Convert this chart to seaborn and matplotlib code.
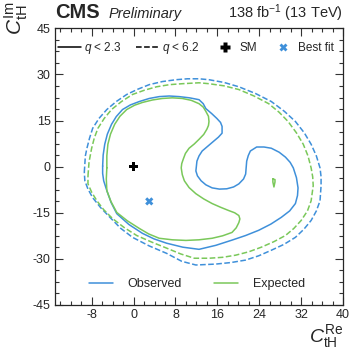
import matplotlib
matplotlib.use("Agg")
import matplotlib.pyplot as plt
from matplotlib.lines import Line2D
from matplotlib.ticker import MultipleLocator, AutoMinorLocator
import seaborn as sns

# contour values (C_tH^Re, C_tH^Im)
obs68_x = [-5.9, -5.8, -5.5, -5.0, -4.2, -3.3, -2.1, -0.6, 1.1, 3.0, 4.9, 6.8, 8.7, 10.7, 12.5,
           13.3, 13.8, 14.9, 15.9, 16.6, 16.9, 16.9, 16.2, 15.3, 14.2, 13.1, 12.5, 12.1, 11.9,
           12.2, 12.9, 13.8, 15.0, 16.4, 17.8, 19.1, 20.1, 21.0, 21.4, 21.6, 21.9, 22.3, 23.5,
           24.9, 26.3, 27.8, 29.0, 29.9, 30.5, 31.1, 31.4, 31.3, 30.9, 29.8, 28.2, 26.2, 23.9,
           21.4, 18.8, 15.7, 12.5, 9.4, 6.3, 3.9, 1.7, -0.9, -3.2, -4.3, -5.1, -5.7, -5.9, -5.9]
obs68_y = [0.2, 3.8, 7.3, 10.6, 13.8, 16.3, 18.6, 20.1, 21.2, 22.2, 22.8, 23.0, 22.8, 22.4, 21.8,
           20.5, 18.9, 17.3, 15.7, 14.4, 13.1, 10.9, 9.6, 8.3, 6.7, 5.1, 3.5, 1.8, -1.4,
           -3.0, -4.6, -5.9, -6.9, -7.3, -7.2, -6.6, -5.6, -4.0, -2.4, 1.8, 3.6, 5.1, 6.4,
           6.4, 6.0, 4.7, 3.1, 1.4, -0.4, -3.6, -6.9, -9.4, -12.0, -14.4, -16.5, -18.7, -20.7,
           -22.4, -23.9, -25.6, -26.9, -26.2, -24.9, -23.5, -21.7, -18.8, -15.3, -11.6, -7.8,
           -4.6, -2.2, 0.2]

obs95_x = [-9.4, -9.2, -8.9, -8.4, -7.8, -6.6, -5.1, -3.3, -1.3, 0.8, 3.0, 5.5, 8.1, 10.3, 12.5,
           14.4, 17.3, 20.1, 23.3, 26.3, 28.8, 30.9, 32.6, 33.9, 34.9, 35.6, 35.8, 35.8, 35.6,
           34.9, 33.9, 32.5, 30.9, 28.7, 26.3, 23.9, 21.4, 18.6, 15.7, 11.9, 9.2, 6.3, 3.0,
           -0.2, -2.5, -4.5, -6.3, -7.8, -8.7, -9.3, -9.4]
obs95_y = [-1.8, 3.5, 6.0, 9.3, 12.5, 15.7, 18.6, 21.2, 23.5, 25.2, 26.7, 27.7, 28.3, 28.6, 28.6,
           28.3, 27.4, 26.0, 23.8, 21.2, 18.0, 14.7, 11.0, 7.3, 3.5, -0.4, -3.3, -6.2, -11.1,
           -14.4, -17.5, -20.4, -23.0, -25.3, -27.2, -29.0, -30.4, -31.2, -31.7, -32.0, -30.8,
           -28.2, -25.8, -23.0, -20.0, -16.5, -13.3, -10.1, -7.3, -4.6, -1.8]

exp68_x = [-5.1, -5.1, -4.9, -4.4, -3.6, -2.6, -1.3, 0.2, 1.7, 3.6, 5.5, 7.4, 9.3, 11.0, 12.5,
           13.3, 13.8, 14.3, 14.4, 14.3, 14.0, 13.4, 12.5, 11.6, 10.6, 9.9, 9.5, 9.2, 9.1, 9.3,
           9.7, 10.6, 11.9, 13.4, 15.0, 16.6, 18.2, 19.3, 20.1, 20.3, 20.1, 19.6, 18.8, 17.0,
           15.0, 12.5, 10.0, 7.4, 4.9, 2.9, 1.1, -1.2, -3.2, -4.3, -5.1, -5.2, -5.1]
exp68_y = [-0.4, 3.5, 7.3, 10.6, 13.8, 16.4, 18.6, 20.0, 20.9, 21.7, 22.2, 22.4, 22.2, 21.6, 20.5,
           19.4, 18.0, 16.4, 14.7, 13.4, 12.2, 10.5, 8.9, 7.4, 6.0, 4.3, 2.5, 1.0, -0.4, -2.6,
           -4.6, -6.8, -8.8, -10.5, -12.0, -13.2, -14.3, -15.0, -15.9, -17.0, -18.2, -19.9,
           -21.4, -22.5, -23.3, -23.8, -24.0, -23.8, -23.3, -21.9, -20.1, -17.6, -14.9, -11.4,
           -7.8, -4.0, -0.4]

exp68_island_x = [26.6, 27.0, 27.0, 26.8, 26.6, 26.6]
exp68_island_y = [-4.0, -4.2, -5.0, -6.6, -5.0, -4.0]

exp95_x = [-8.7, -8.5, -8.0, -7.5, -6.8, -5.6, -4.2, -2.3, -0.2, 2.1, 4.4, 6.9, 9.3, 12.5, 14.4,
           17.3, 20.1, 23.0, 25.8, 27.8, 29.5, 31.1, 32.4, 33.3, 33.9, 34.2, 34.3, 33.9, 33.2,
           32.0, 30.6, 29.0, 26.8, 24.4, 22.0, 19.5, 17.0, 14.4, 11.6, 9.0, 6.3, 3.4, 0.6,
           -1.8, -4.0, -5.7, -7.0, -8.0, -8.7, -8.7]
exp95_y = [-3.0, 1.5, 6.0, 9.3, 12.5, 15.7, 18.6, 21.2, 23.5, 24.9, 26.0, 26.7, 27.0, 27.3, 27.0,
           26.3, 25.1, 23.0, 20.5, 17.7, 14.7, 11.0, 7.3, 3.5, -0.4, -3.3, -6.2, -11.1, -14.4,
           -17.5, -20.1, -22.4, -24.4, -26.2, -27.7, -28.8, -29.5, -29.8, -29.8, -28.4, -26.5,
           -24.5, -22.4, -19.8, -16.9, -14.0, -11.1, -8.3, -5.6, -3.0]

sm_x, sm_y = [0.0], [0.0]
bf_x, bf_y = [3.0], [-11.3]

blue = "#3f90da"
green = "#7ac85a"

sns.set_style("ticks")
plt.rcParams['font.family'] = ['Liberation Sans', 'DejaVu Sans']
plt.rcParams['mathtext.fontset'] = 'custom'
plt.rcParams['mathtext.rm'] = 'Liberation Sans'
plt.rcParams['mathtext.it'] = 'Liberation Sans:italic'
plt.rcParams['mathtext.bf'] = 'Liberation Sans:bold'
plt.rcParams['xtick.direction'] = 'in'
plt.rcParams['ytick.direction'] = 'in'
plt.rcParams['axes.unicode_minus'] = False

fig = plt.figure(figsize=(3.57, 3.55), dpi=100)
ax = fig.add_axes([0.154, 0.141, 0.807, 0.779])

lw = 1.1
sns.lineplot(x=obs95_x, y=obs95_y, sort=False, estimator=None, color=blue, lw=lw, ls="--", ax=ax)
sns.lineplot(x=exp95_x, y=exp95_y, sort=False, estimator=None, color=green, lw=lw, ls="--", ax=ax)
sns.lineplot(x=obs68_x, y=obs68_y, sort=False, estimator=None, color=blue, lw=lw, ax=ax)
sns.lineplot(x=exp68_x, y=exp68_y, sort=False, estimator=None, color=green, lw=lw, ax=ax)
sns.lineplot(x=exp68_island_x, y=exp68_island_y, sort=False, estimator=None, color=green, lw=lw, ax=ax)

sns.scatterplot(x=sm_x, y=sm_y, marker="P", s=45, color="black", edgecolor="none", ax=ax)
sns.scatterplot(x=bf_x, y=bf_y, marker="X", s=35, color=blue, edgecolor="none", ax=ax)

ax.set_xlim(-15, 40)
ax.set_ylim(-45, 45)
ax.xaxis.set_major_locator(MultipleLocator(8))
ax.xaxis.set_minor_locator(AutoMinorLocator(4))
ax.yaxis.set_major_locator(MultipleLocator(15))
ax.yaxis.set_minor_locator(AutoMinorLocator(4))
ax.tick_params(which="both", direction="in", top=True, right=True, labelsize=9, width=0.8,
               color="#333333", pad=3)
ax.tick_params(which="major", length=6)
ax.tick_params(which="minor", length=3)
for sp in ax.spines.values():
    sp.set_linewidth(0.9)
ax.set_xlabel("")
ax.set_ylabel("")

# top legend
h1 = [Line2D([], [], color="black", lw=lw),
      Line2D([], [], color="black", lw=lw, ls="--"),
      Line2D([], [], color="black", marker="P", ls="none", ms=7, mec="none"),
      Line2D([], [], color=blue, marker="X", ls="none", ms=6, mec="none")]
leg1 = ax.legend(h1, ["$q$ < 2.3", "$q$ < 6.2", "SM", "Best fit"], ncol=4, frameon=False,
                 loc="upper left", bbox_to_anchor=(-0.005, 0.975), fontsize=8.5,
                 handlelength=1.9, handletextpad=0.3, columnspacing=1.2, borderaxespad=0)
ax.add_artist(leg1)

h2 = [Line2D([], [], color=blue, lw=lw), Line2D([], [], color=green, lw=lw)]
ax.legend(h2, ["Observed", "Expected"], ncol=2, frameon=False, loc="lower left",
          bbox_to_anchor=(0.1, 0.035), fontsize=9, handlelength=1.9, handletextpad=1.2,
          columnspacing=2.6, borderaxespad=0)

fig.text(0.154, 0.948, "CMS", fontsize=14.5, fontweight="bold", ha="left", va="baseline")
fig.text(0.305, 0.948, "Preliminary", fontsize=10.5, style="italic", ha="left", va="baseline")
fig.text(0.961, 0.948, "138 fb$^{-1}$ (13 TeV)", fontsize=10.5, ha="right", va="baseline")

fig.text(0.961, 0.015, "$C_{\\mathrm{tH}}^{\\mathrm{Re}}$", fontsize=14, ha="right", va="bottom")
fig.text(0.008, 0.995, "$C_{\\mathrm{tH}}^{\\mathrm{Im}}$", fontsize=15, rotation=90,
         ha="left", va="top")

fig.savefig("out.png", dpi=100)
